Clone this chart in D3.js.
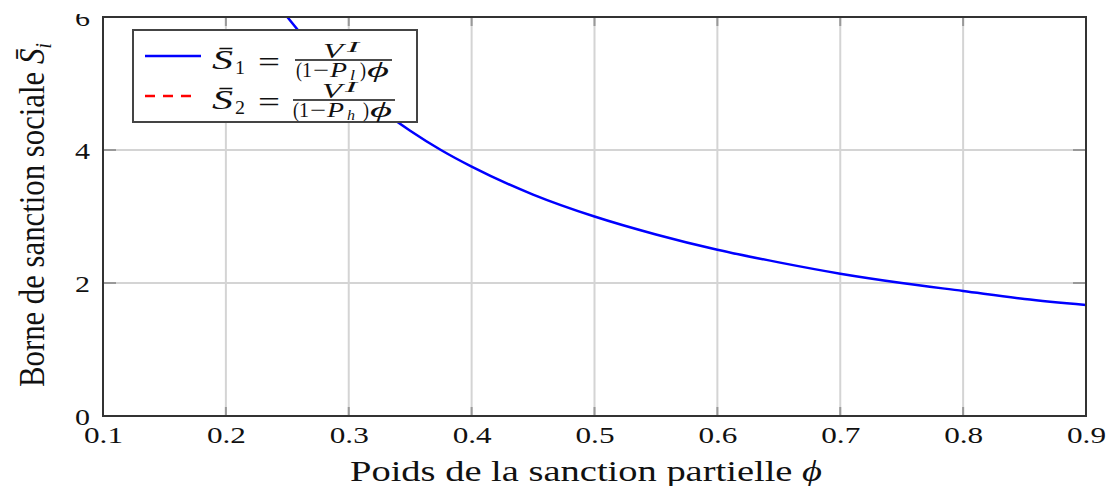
<!DOCTYPE html>
<html>
<head>
<meta charset="utf-8">
<script src="https://cdn.jsdelivr.net/npm/d3@7"></script>
<style>
  body { margin: 0; background: #fff; }
  text { font-family: "Liberation Serif", serif; fill: #111; }
</style>
</head>
<body>
<script>
// data
var phi = [0.25, 0.275, 0.3, 0.325, 0.35, 0.375, 0.4, 0.45, 0.5, 0.55, 0.6, 0.65, 0.7, 0.75, 0.8, 0.85, 0.9];
var s1 = [6.0, 5.45, 5.0, 4.62, 4.29, 4.0, 3.75, 3.33, 3.0, 2.73, 2.5, 2.31, 2.14, 2.0, 1.88, 1.76, 1.67];
// S2 lies above the plotted range, only its legend entry shows
var xTicks = [0.1, 0.2, 0.3, 0.4, 0.5, 0.6, 0.7, 0.8, 0.9];
var yTicks = [0, 2, 4, 6];

var width = 1109;
var height = 486;

var svg = d3.select("body")
  .append("svg")
  .attr("width", width)
  .attr("height", height);

var x = d3.scaleLinear().domain([0.1, 0.9]).range([103, 1086]);
var y = d3.scaleLinear().domain([0, 6]).range([416, 17]);

// grid
svg.append("g").selectAll("line")
  .data(xTicks.slice(1, -1))
  .enter().append("line")
  .attr("x1", d => x(d)).attr("x2", d => x(d))
  .attr("y1", y(0)).attr("y2", y(6))
  .attr("stroke", "#d4d4d4").attr("stroke-width", 2);
svg.append("g").selectAll("line")
  .data(yTicks.slice(1, -1))
  .enter().append("line")
  .attr("x1", x(0.1)).attr("x2", x(0.9))
  .attr("y1", d => y(d)).attr("y2", d => y(d))
  .attr("stroke", "#d4d4d4").attr("stroke-width", 2);

// small inward ticks
var tk = svg.append("g").attr("stroke", "#999").attr("stroke-width", 2);
xTicks.slice(1, -1).forEach(function(d) {
  tk.append("line").attr("x1", x(d)).attr("x2", x(d)).attr("y1", y(0)).attr("y2", y(0) - 9);
  tk.append("line").attr("x1", x(d)).attr("x2", x(d)).attr("y1", y(6)).attr("y2", y(6) + 9);
});
yTicks.slice(1, -1).forEach(function(d) {
  tk.append("line").attr("x1", x(0.1)).attr("x2", x(0.1) + 13).attr("y1", y(d)).attr("y2", y(d));
  tk.append("line").attr("x1", x(0.9)).attr("x2", x(0.9) - 13).attr("y1", y(d)).attr("y2", y(d));
});

// curve
svg.append("defs").append("clipPath").attr("id", "plot")
  .append("rect")
  .attr("x", x(0.1)).attr("y", y(6))
  .attr("width", x(0.9) - x(0.1)).attr("height", y(0) - y(6));

var line = d3.line()
  .x((d, i) => x(phi[i]))
  .y(d => y(d))
  .curve(d3.curveMonotoneX);

svg.append("path")
  .datum(s1)
  .attr("clip-path", "url(#plot)")
  .attr("d", line)
  .attr("fill", "none")
  .attr("stroke", "#0000ff")
  .attr("stroke-width", 2.5);

// frame
svg.append("rect")
  .attr("x", x(0.1)).attr("y", y(6))
  .attr("width", x(0.9) - x(0.1)).attr("height", y(0) - y(6))
  .attr("fill", "none").attr("stroke", "#333").attr("stroke-width", 2);

// axes labels
var xAxis = svg.append("g")
  .attr("transform", "translate(0," + y(0) + ")")
  .call(d3.axisBottom(x).tickValues(xTicks).tickFormat(d3.format(".1f")).tickSize(0));
xAxis.select(".domain").remove();
xAxis.selectAll("text")
  .attr("y", 27).attr("dy", null)
  .attr("font-family", "Liberation Serif")
  .attr("font-size", 24)
  .attr("fill", "#111")
  .attr("textLength", 39)
  .attr("lengthAdjust", "spacingAndGlyphs");

var yAxis = svg.append("g")
  .attr("transform", "translate(" + x(0.1) + ",0)")
  .call(d3.axisLeft(y).tickValues(yTicks).tickFormat(d3.format("d")).tickSize(0));
yAxis.select(".domain").remove();
yAxis.selectAll("text")
  .attr("x", -13).attr("dy", "0.34em")
  .attr("font-family", "Liberation Serif")
  .attr("font-size", 24)
  .attr("fill", "#111")
  .attr("textLength", 15)
  .attr("lengthAdjust", "spacingAndGlyphs");

svg.append("text")
  .attr("x", 350).attr("y", 481)
  .attr("font-size", 29)
  .attr("textLength", 472)
  .attr("lengthAdjust", "spacingAndGlyphs")
  .html('Poids de la sanction partielle <tspan font-style="italic">\u03d5</tspan>');

var yl = svg.append("text")
  .attr("transform", "translate(44,387) rotate(-90)")
  .attr("font-size", 36)
  .attr("textLength", 344)
  .attr("lengthAdjust", "spacingAndGlyphs");
yl.append("tspan").text("Borne de sanction sociale ");
yl.append("tspan").attr("font-style", "italic").text("S\u0304");
yl.append("tspan").attr("font-style", "italic").attr("font-size", 24).attr("dy", 7).text("i");

// legend
var lg = svg.append("g");
lg.append("rect")
  .attr("x", 133).attr("y", 30).attr("width", 284).attr("height", 92)
  .attr("fill", "#fff").attr("stroke", "#444").attr("stroke-width", 2);

function piece(t, px, py, size, italic, len) {
  lg.append("text")
    .attr("x", px).attr("y", py)
    .attr("font-size", size)
    .attr("font-style", italic ? "italic" : null)
    .attr("textLength", len)
    .attr("lengthAdjust", "spacingAndGlyphs")
    .text(t);
}

var entries = [
  {color: "#0000ff", dash: null, sub: "1", p: "l", lx: 201, w: 0},
  {color: "#ff0000", dash: "10,8", sub: "2", p: "h", lx: 195, w: 3}
];

entries.forEach(function(e, i) {
  var dy = i * 40;
  lg.append("line")
    .attr("x1", 145).attr("x2", e.lx)
    .attr("y1", 56 + dy).attr("y2", 56 + dy)
    .attr("stroke", e.color).attr("stroke-width", 2.5)
    .attr("stroke-dasharray", e.dash);

  piece("S\u0304", 212, 69 + dy, 28, true, 21);
  piece(e.sub, 235, 74 + dy, 19, false, 10);
  piece("=", 258, 72 + dy, 30, false, 22);

  piece("V", 323 - i, 58 + dy, 21, true, 20);
  piece("I", 347 - i * 2, 52 + dy, 15, true, 12);

  lg.append("line")
    .attr("x1", 295 - i * 2).attr("x2", 392 + e.w)
    .attr("y1", 60 + dy).attr("y2", 60 + dy)
    .attr("stroke", "#111").attr("stroke-width", 1.3);

  var dx = 296 - i * 3;
  piece("(", dx, 77 + dy, 21, false, 6);
  piece("1", dx + 6, 77 + dy, 21, false, 10);
  piece("\u2212", dx + 17, 77 + dy, 21, false, 16);
  piece("P", dx + 34, 77 + dy, 21, true, 17);
  piece(e.p, dx + 54, 80 + dy, 15, true, e.p === "l" ? 5 : 8);
  piece(")", 360 + e.w, 77 + dy, 21, false, 6);
  piece("\u03d5", 367 + e.w, 77 + dy, 21, true, 22);
});

// the reference is cropped at the top edge
svg.append("rect").attr("x", 0).attr("y", 0).attr("width", width).attr("height", 14).attr("fill", "#fff");
</script>
</body>
</html>
